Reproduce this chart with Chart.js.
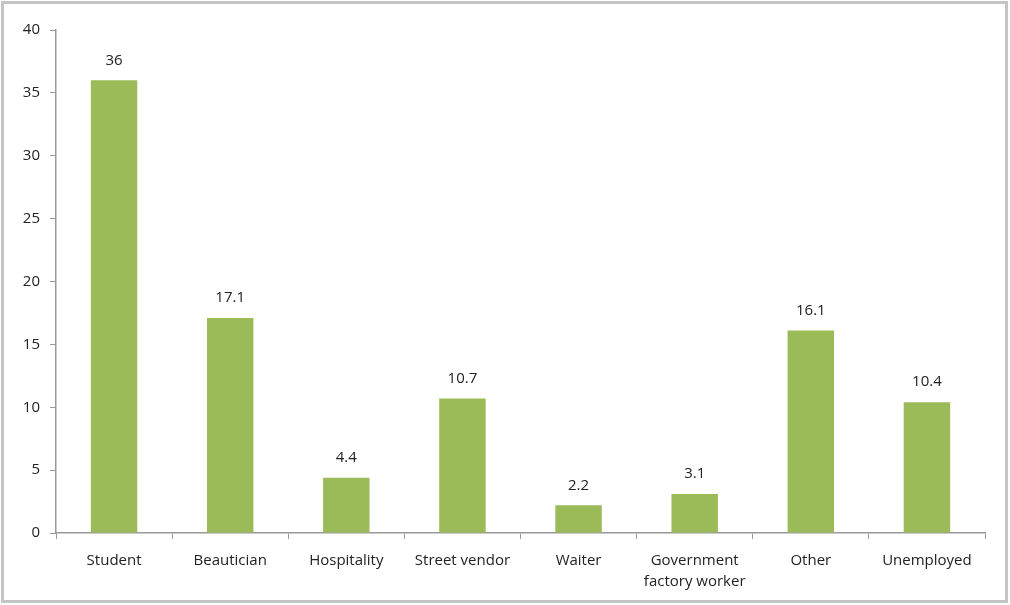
<!DOCTYPE html>
<html><head><meta charset="utf-8">
<script src="https://cdn.jsdelivr.net/npm/chart.js@4"></script>
<style>html,body{margin:0;padding:0;background:#fff}#wrap{width:1010px;height:605px;position:relative}</style>
</head><body><div id="wrap"><canvas id="c" width="1010" height="605"></canvas></div>
<script>
const categories = ["Student","Beautician","Hospitality","Street vendor","Waiter",["Government","factory worker"],"Other","Unemployed"];
const values = [36, 17.1, 4.4, 10.7, 2.2, 3.1, 16.1, 10.4];
const yTicks = [0,5,10,15,20,25,30,35,40];

const FONT = "'Open Sans', sans-serif";
const frame = {
  id:'frame',
  beforeDraw(chart){
    const ctx = chart.ctx;
    ctx.save();
    ctx.fillStyle='#fff';ctx.fillRect(0,0,chart.width,chart.height);
    ctx.restore();
  },
  afterDraw(chart){
    const ctx = chart.ctx;
    ctx.save();
    ctx.strokeStyle='#c4c4c4';ctx.lineWidth=3;
    ctx.strokeRect(2.5,2.5,1004,599);
    ctx.restore();
  }
};
const labelsPlugin = {
  id:'vlabels',
  afterDatasetsDraw(chart){
    const ctx = chart.ctx;
    const meta = chart.getDatasetMeta(0);
    ctx.save();
    ctx.font = "15px "+FONT;
    ctx.fillStyle='#222';
    ctx.textAlign='center';
    ctx.textBaseline='middle';
    meta.data.forEach((bar,i)=>{
      ctx.fillText(String(values[i]), bar.x, bar.y-20);
    });
    ctx.restore();
  }
};
new Chart(document.getElementById('c'),{
  type:'bar',
  data:{labels:categories,datasets:[{data:values,backgroundColor:'#9bbb59',borderWidth:0,barPercentage:0.4,categoryPercentage:1}]},
  options:{
    responsive:false,animation:false,
    layout:{padding:{top:30,right:25,left:0,bottom:0}},
    plugins:{legend:{display:false},tooltip:{enabled:false}},
    scales:{
      x:{
        grid:{display:true,drawOnChartArea:false,offset:true,tickLength:6,color:'#999'},
        border:{display:true,color:'#999',width:1.5},
        ticks:{font:{family:FONT,size:15,lineHeight:1.35},color:'#222',padding:12,maxRotation:0,autoSkip:false},
        afterFit(s){s.height=72;}
      },
      y:{
        min:0,max:40,
        grid:{display:true,drawOnChartArea:false,tickLength:6,color:'#999'},
        border:{display:true,color:'#999',width:1.5},
        ticks:{stepSize:5,font:{family:FONT,size:15},color:'#222',padding:10,
          callback:(v)=>yTicks.includes(v)?String(v):null},
        afterFit(s){s.width=56;}
      }
    }
  },
  plugins:[frame,labelsPlugin]
});
</script></body></html>
